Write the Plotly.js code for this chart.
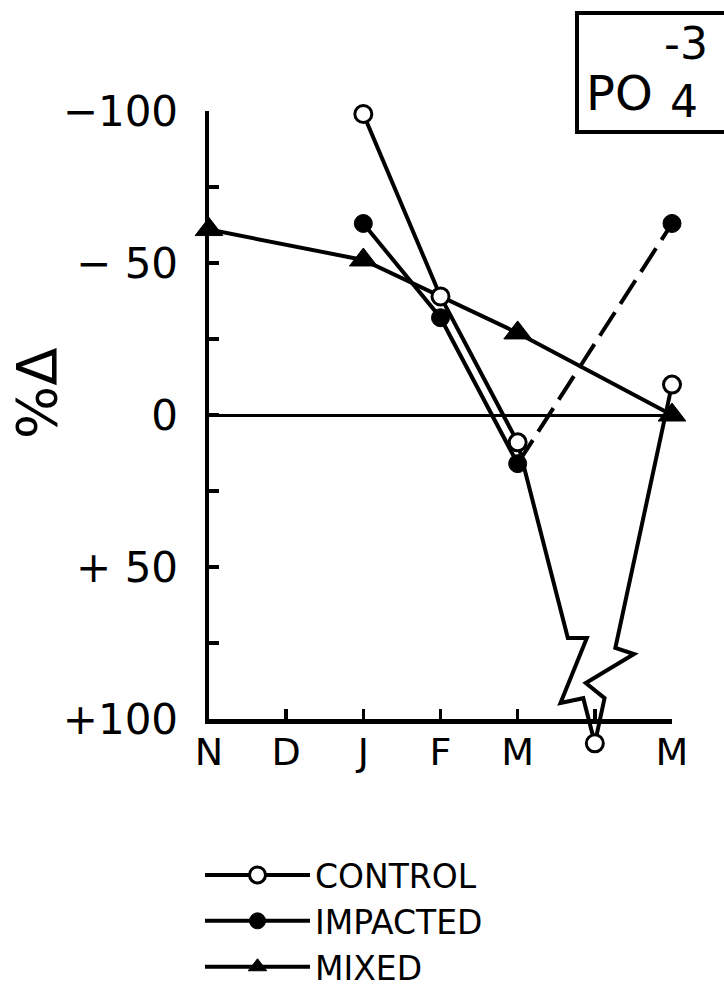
<!DOCTYPE html>
<html>
<head>
<meta charset="utf-8">
<script src="https://cdn.plot.ly/plotly-3.0.1.min.js"></script>
<style>html,body{margin:0;padding:0;background:#fff;}#chart{width:724px;height:995px;}</style>
</head>
<body>
<div id="chart"></div>
<script>
// ---- data ----
const monthIndex = [0, 1, 2, 3, 4, 5, 6];
const monthLabels = ['N', 'D', 'J', 'F', 'M', '', 'M'];
const control  = [null, null, -99, -39, 9, 108, -10];
const impacted = [null, null, -63, -32, 16, null, -63];
const mixed    = [-61, null, -51, null, -27, null, 0];
const yTickVals = [-100, -75, -50, -25, 0, 25, 50, 75, 100];
const yTickText = ['\u2212100', '', '\u2212 50', '', '0', '', '+ 50', '', '+100'];

// ---- layout constants (pixels) ----
const L = 209, T = 111, W = 463, H = 608;   // visible axes box
const HP = 654;                             // taller area so the off-scale control point stays visible
const FONT = 'DejaVu Sans';
const yMaxData = -100 + 200 * HP / H;       // same px-per-unit scale as the visible axis
const dom0 = 1 - H / HP;

function pick(arr, from, to) {
  const xs = [], ys = [];
  for (let i = from; i <= to; i++) {
    if (arr[i] !== null) { xs.push(monthIndex[i]); ys.push(arr[i]); }
  }
  return {x: xs, y: ys};
}

const lineW = 4;
const openCircle = {symbol: 'circle', size: 17, color: '#fff', line: {color: '#000', width: 3}};
const filledCircle = {symbol: 'circle', size: 18, color: '#000', line: {color: '#000', width: 1}};
const triangle = {symbol: 'triangle-up', size: 24, color: '#000', line: {color: '#000', width: 1}};

const cSolid = pick(control, 2, 4);
const cRest = pick(control, 5, 6);
const iSolid = pick(impacted, 2, 4);
const iDash = pick(impacted, 4, 6);
const iEnd = pick(impacted, 6, 6);
const mAll = pick(mixed, 0, 6);

const onMain = {xaxis: 'x', yaxis: 'y', cliponaxis: false};
const onTall = {xaxis: 'x2', yaxis: 'y2', cliponaxis: false};
const traces = [
  Object.assign({x: mAll.x, y: mAll.y, mode: 'lines+markers', name: 'MIXED', legendrank: 3,
   line: {color: '#000', width: lineW}, marker: triangle}, onMain),
  Object.assign({x: iDash.x, y: iDash.y, mode: 'lines', showlegend: false,
   line: {color: '#000', width: lineW, dash: '28px,10px'}}, onMain),
  Object.assign({x: iSolid.x, y: iSolid.y, mode: 'lines+markers', name: 'IMPACTED', legendrank: 2,
   line: {color: '#000', width: lineW}, marker: filledCircle}, onMain),
  Object.assign({x: iEnd.x, y: iEnd.y, mode: 'markers', showlegend: false, marker: filledCircle}, onMain),
  Object.assign({x: cSolid.x, y: cSolid.y, mode: 'lines+markers', name: 'CONTROL', legendrank: 1,
   line: {color: '#000', width: lineW}, marker: openCircle}, onTall),
  Object.assign({x: cRest.x, y: cRest.y, mode: 'markers', showlegend: false, marker: openCircle}, onTall)
];

// pixel helpers derived from the axis scales (for the broken-line glyph only)
function PX(i) { return L + i / 6 * W; }
function PY(v) { return T + (v + 100) / 200 * H; }
function toData(p) { return [(p[0] - L) / W * 6, (p[1] - T) / H * 200 - 100]; }
function along(P, Q, t, dx) { return [P[0] + t * (Q[0] - P[0]) + (dx || 0), P[1] + t * (Q[1] - P[1])]; }
function pathOf(pts) {
  return pts.map((p, k) => { const q = toData(p); return (k ? 'L' : 'M') + q[0].toFixed(4) + ',' + q[1].toFixed(3); }).join(' ');
}

const P1 = [PX(4), PY(control[4])], Q1 = [PX(5), PY(control[5])];
const P2 = Q1, Q2 = [PX(6), PY(control[6])];
const bolt1 = [P1, along(P1, Q1, 0.65), along(P1, Q1, 0.65, 19), along(P1, Q1, 0.866, -24), along(P1, Q1, 0.85), Q1];
const bolt2 = [P2, along(P2, Q2, 0.126), along(P2, Q2, 0.168, -22), along(P2, Q2, 0.249, 20), along(P2, Q2, 0.266), Q2];

const shapes = [
  {type: 'path', xref: 'x2', yref: 'y2', path: pathOf(bolt1), layer: 'below', line: {color: '#000', width: lineW}},
  {type: 'path', xref: 'x2', yref: 'y2', path: pathOf(bolt2), layer: 'below', line: {color: '#000', width: lineW}},
  {type: 'rect', xref: 'paper', yref: 'paper', x0: (577 - L) / W, x1: (740 - L) / W,
   y0: 1 - (132 - T) / HP, y1: 1 - (13 - T) / HP, line: {color: '#000', width: 4}}
];

function pxAnn(px, py, text, size, extra) {
  return Object.assign({xref: 'paper', yref: 'paper', x: (px - L) / W, y: 1 - (py - T) / HP, text: text,
    showarrow: false, xanchor: 'center', yanchor: 'middle', font: {family: FONT, size: size, color: '#000'}}, extra || {});
}

const annotations = [
  pxAnn(36, 393, '%\u0394', 56, {textangle: -90}),
  pxAnn(619, 93, 'PO', 48),
  pxAnn(686, 44, '-3', 44),
  pxAnn(684, 102, '4', 44)
];

const tickStyle = {ticks: 'inside', ticklen: 10, tickwidth: 3.5, tickcolor: '#000',
                   showline: true, linecolor: '#000', linewidth: 4.5, mirror: false, showgrid: false};

const layout = {
  width: 724, height: 995,
  margin: {l: L, r: 724 - L - W, t: T, b: 995 - T - HP, pad: 0, autoexpand: false},
  paper_bgcolor: '#fff', plot_bgcolor: 'rgba(0,0,0,0)',
  showlegend: true,
  legend: {x: (200 - L) / W, y: 1 - (847 - T) / HP, xanchor: 'left', yanchor: 'top',
           font: {family: FONT, size: 33, color: '#000'}, itemwidth: 105, bgcolor: 'rgba(0,0,0,0)'},
  xaxis: Object.assign({range: [0, 6], anchor: 'y', tickmode: 'array', tickvals: monthIndex, ticktext: monthLabels,
          zeroline: false, ticklabelstandoff: -4,
          tickfont: {family: FONT, size: 38, color: '#000'}}, tickStyle),
  yaxis: Object.assign({range: [100, -100], domain: [dom0, 1], anchor: 'x', tickmode: 'array',
          tickvals: yTickVals, ticktext: yTickText,
          zeroline: true, zerolinecolor: '#000', zerolinewidth: 3, ticklabelstandoff: 18,
          tickfont: {family: FONT, size: 42, color: '#000'}}, tickStyle),
  xaxis2: {range: [0, 6], anchor: 'y2', visible: false, showgrid: false, zeroline: false},
  yaxis2: {range: [yMaxData, -100], domain: [0, 1], anchor: 'x2', visible: false, showgrid: false, zeroline: false},
  shapes: shapes,
  annotations: annotations
};

Plotly.newPlot('chart', traces, layout, {staticPlot: true, displayModeBar: false});
</script>
</body>
</html>
